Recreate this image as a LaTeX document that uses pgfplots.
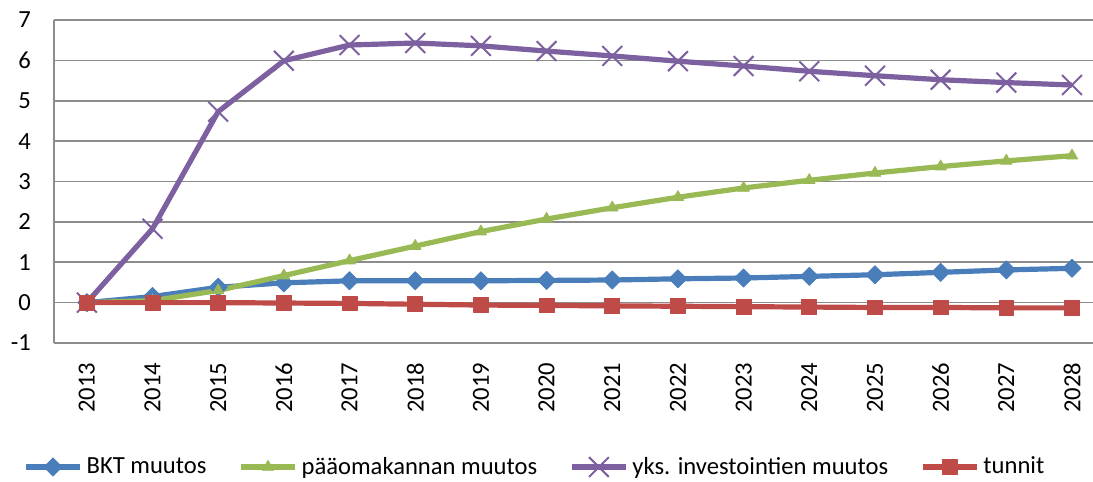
\documentclass[border=0pt]{standalone}
\usepackage{fontspec}
\setmainfont{Carlito}
\usepackage{pgfplots}
\usepackage{pgfplotstable}
\pgfplotsset{compat=1.18}
\definecolor{cblue}{HTML}{4A7EBB}
\definecolor{cred}{HTML}{BE4B48}
\definecolor{cgreen}{HTML}{98B954}
\definecolor{cpurple}{HTML}{7D60A0}
\definecolor{cgrid}{HTML}{8C8C8C}

\pgfplotstableread{
x bkt paaoma yks tunnit
0  0.00 0.00 0.00  0.00
1  0.15 0.05 1.83  0.00
2  0.38 0.30 4.73  0.00
3  0.49 0.67 5.99 -0.01
4  0.54 1.04 6.38 -0.02
5  0.54 1.40 6.43 -0.04
6  0.54 1.76 6.36 -0.06
7  0.55 2.07 6.23 -0.07
8  0.56 2.35 6.11 -0.08
9  0.59 2.61 5.98 -0.09
10 0.61 2.84 5.86 -0.10
11 0.65 3.03 5.73 -0.11
12 0.69 3.21 5.62 -0.12
13 0.75 3.37 5.52 -0.12
14 0.81 3.51 5.45 -0.13
15 0.85 3.64 5.39 -0.13
}\datatable

\begin{document}
\begin{tikzpicture}
\clip (0pt,0pt) rectangle (546.5pt,241pt);
\begin{axis}[
  at={(27pt,69.5pt)}, anchor=south west,
  scale only axis, width=519.5pt, height=161.5pt,
  xmin=-0.5, xmax=15.32, ymin=-1, ymax=7,
  ytick={-1,0,...,7},
  xtick={0,...,15},
  xticklabels={2013,2014,2015,2016,2017,2018,2019,2020,2021,2022,2023,2024,2025,2026,2027,2028},
  yticklabels={-1,0,1,2,3,4,5,6,7},
  axis x line*=bottom, axis y line*=left,
  axis line style={cgrid, line width=0.8pt, -},
  ymajorgrids, grid style={cgrid, line width=0.8pt},
  major tick length=0pt,
  tick label style={font=\fontsize{12.3}{14.8}\selectfont, text=black},
  xticklabel style={rotate=90, anchor=east},
  xticklabel shift=6.5pt,
  yticklabel shift=8pt,
  clip=false,
  legend columns=4,
  legend style={draw=none, fill=none, font=\fontsize{12.3}{14.8}\selectfont,
    at={(-0.0298,-0.384)}, anchor=west, inner sep=0pt,
    nodes={inner xsep=1pt},
    /tikz/every even column/.append style={column sep=15pt},
    /tikz/every odd column/.append style={column sep=1pt}},
  legend image code/.code={\draw[mark repeat=2,mark phase=2] plot coordinates {(0pt,0pt) (13.5pt,0pt) (27pt,0pt)};},
  every axis plot/.append style={line width=2.6pt, line join=round},
]
\addplot[cblue, mark=square*, mark size=3.2pt, mark options={rotate=45, solid, line width=0.4pt}] table[x=x,y=bkt] {\datatable};
\addlegendentry{BKT muutos}
\addplot[cgreen, mark=triangle*, mark size=3.3pt, mark options={solid, line width=0.4pt}] table[x=x,y=paaoma] {\datatable};
\addlegendentry{pääomakannan muutos}
\addplot[cpurple, mark=x, mark size=7pt, mark options={solid, line width=1pt}] table[x=x,y=yks] {\datatable};
\addlegendentry{yks. investointien muutos}
\addplot[cred, mark=square*, mark size=3.7pt, mark options={solid, line width=0.4pt}] table[x=x,y=tunnit] {\datatable};
\addlegendentry{tunnit}
\end{axis}
\end{tikzpicture}
\end{document}
